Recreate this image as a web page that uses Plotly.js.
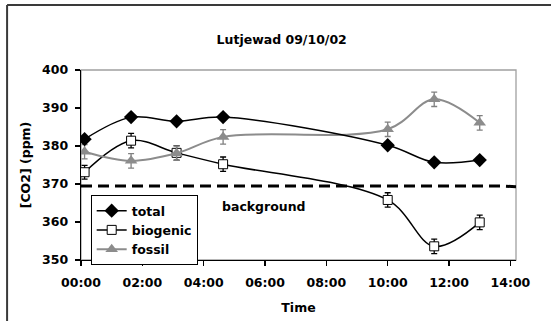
<!DOCTYPE html>
<html>
<head>
<meta charset="utf-8">
<script src="https://cdn.plot.ly/plotly-3.0.1.min.js"></script>
<style>html,body{margin:0;padding:0;background:#fff;overflow:hidden;}#chart{width:551px;height:321px;}</style>
</head>
<body>
<div id="chart"></div>
<script>
const times = ['2002-10-09 00:07','2002-10-09 01:38','2002-10-09 03:07','2002-10-09 04:38','2002-10-09 10:00','2002-10-09 11:31','2002-10-09 13:00'];
const total = [381.8, 387.6, 386.5, 387.6, 380.2, 375.7, 376.3];
const biogenic = [373.1, 381.4, 378.2, 375.2, 365.8, 353.6, 359.9];
const biogenicErr = [1.8, 1.9, 1.9, 1.9, 1.9, 1.9, 1.9];
const fossil = [378.5, 376.1, 378.1, 382.4, 384.4, 392.3, 386.1];
const fossilErr = [1.9, 1.9, 1.9, 1.9, 1.9, 1.9, 1.9];
const bgTimes = ['2002-10-09 00:00', '2002-10-09 13:40', '2002-10-09 14:11'];
const bgValues = [369.5, 369.5, 369.25];
const tickVals = ['2002-10-09 00:00','2002-10-09 02:00','2002-10-09 04:00','2002-10-09 06:00','2002-10-09 08:00','2002-10-09 10:00','2002-10-09 12:00','2002-10-09 14:00'];
const tickText = ['00:00','02:00','04:00','06:00','08:00','10:00','12:00','14:00'];

const F = {family: 'DejaVu Sans, Arial, sans-serif', size: 12.5, color: '#000', weight: 'bold'};

const traces = [
  {x: bgTimes, y: bgValues, mode: 'lines', showlegend: false, hoverinfo: 'skip',
   line: {color: '#000', width: 3, dash: '11px,6px'}},
  {x: times, y: biogenic, name: 'biogenic', mode: 'lines+markers', legendrank: 2,
   line: {color: '#000', width: 1.5, shape: 'spline'},
   marker: {symbol: 'square', size: 9, color: '#fff', line: {color: '#000', width: 1}},
   error_y: {type: 'data', array: biogenicErr, visible: true, color: '#000', thickness: 1.3, width: 3}},
  {x: times, y: fossil, name: 'fossil', mode: 'lines+markers', legendrank: 3,
   line: {color: '#8c8c8c', width: 2, shape: 'spline'},
   marker: {symbol: 'triangle-up', size: 11, color: '#8c8c8c'},
   error_y: {type: 'data', array: fossilErr, visible: true, color: '#808080', thickness: 1.3, width: 3}},
  {x: times, y: total, name: 'total', mode: 'lines+markers', legendrank: 1,
   line: {color: '#000', width: 1.5, shape: 'spline'},
   marker: {symbol: 'diamond', size: 11, color: '#000'}}
];

const W = 551, H = 321, ml = 81, mr = 34.5, mt = 70, mb = 61;
const pw = W - ml - mr, ph = H - mt - mb;
const px = v => (v - ml) / pw;
const py = v => (H - mb - v) / ph;

const layout = {
  width: W, height: H, autosize: false,
  margin: {l: ml, r: mr, t: mt, b: mb, pad: 0},
  paper_bgcolor: '#fff', plot_bgcolor: '#fff',
  font: F,
  showlegend: true,
  title: {text: 'Lutjewad 09/10/02', font: F, xref: 'container', yref: 'container',
          x: 281.7 / W, y: 1 - 39.5 / H, xanchor: 'center', yanchor: 'middle'},
  xaxis: {type: 'date', range: ['2002-10-09 00:00', '2002-10-09 14:11'],
          tickmode: 'array', tickvals: tickVals, ticktext: tickText,
          showgrid: false, zeroline: false, showline: true, linecolor: '#000', linewidth: 1.3,
          ticks: 'outside', ticklen: 5, tickcolor: '#000', tickwidth: 1.3,
          ticklabelstandoff: 6, tickfont: F,
          title: {text: 'Time', font: F, standoff: 14}},
  yaxis: {range: [350, 400], tickvals: [350, 360, 370, 380, 390, 400],
          showgrid: false, zeroline: false, showline: true, linecolor: '#000', linewidth: 1.3,
          ticks: 'outside', ticklen: 5, tickcolor: '#000', tickwidth: 1.3,
          ticklabelstandoff: 4, tickfont: F,
          title: {text: '[CO2] (ppm)', font: F, standoff: 8}},
  legend: {x: px(90.7), y: py(195), xanchor: 'left', yanchor: 'top',
           bgcolor: '#fff', bordercolor: '#000', borderwidth: 1, font: F,
           traceorder: 'normal', itemwidth: 30, tracegroupgap: 0},
  annotations: [{xref: 'paper', yref: 'paper', x: px(264.7), y: py(206), text: 'background',
                 showarrow: false, font: F, xanchor: 'center', yanchor: 'middle'}],
  shapes: [
    {type: 'rect', xref: 'paper', yref: 'paper', x0: 0, x1: 1, y0: 0, y1: 1,
     line: {color: '#a0a0a0', width: 1.3}, layer: 'below'},
    {type: 'line', xref: 'paper', yref: 'paper', x0: px(7), x1: px(700), y0: py(5), y1: py(5),
     line: {color: '#3a3a3a', width: 2}, layer: 'below'},
    {type: 'line', xref: 'paper', yref: 'paper', x0: px(7), x1: px(7), y0: py(5), y1: py(500),
     line: {color: '#3a3a3a', width: 2}, layer: 'below'}
  ]
};

Plotly.newPlot('chart', traces, layout, {staticPlot: true, displayModeBar: false});
</script>
</body>
</html>
